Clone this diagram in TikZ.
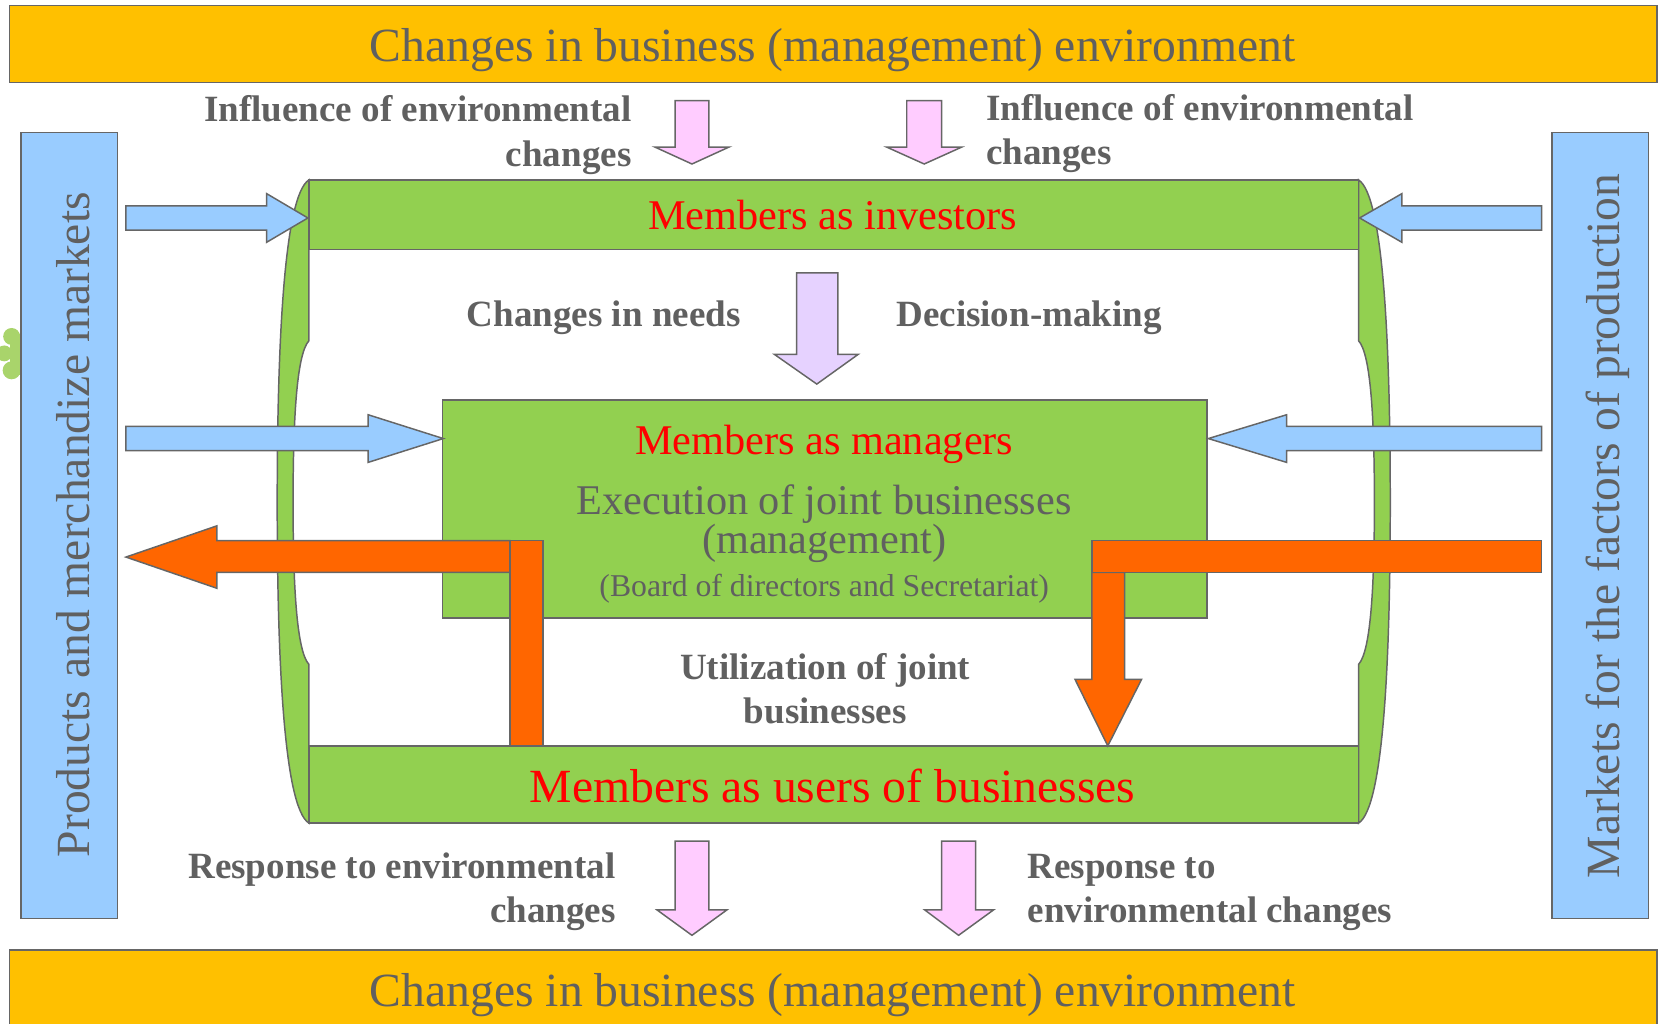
\documentclass[tikz,border=0pt]{standalone}
\usepackage{fontspec}
\setmainfont{Liberation Serif}
\definecolor{gold}{HTML}{FFC000}
\definecolor{skyb}{HTML}{99CCFF}
\definecolor{leaf}{HTML}{92D050}
\definecolor{blob}{HTML}{A9D46B}
\definecolor{orng}{HTML}{FF6600}
\definecolor{pinkk}{HTML}{FFCCFF}
\definecolor{lav}{HTML}{E6D2FF}
\definecolor{edge}{HTML}{666666}
\definecolor{tgrey}{HTML}{606060}
\definecolor{redd}{HTML}{FF0000}
\tikzset{
  ln/.style={draw=edge, line width=1.4pt, line join=miter},
  goldbox/.style={ln, fill=gold},
  bluebox/.style={ln, fill=skyb},
  greenbox/.style={ln, fill=leaf},
  bluearrow/.style={ln, fill=skyb},
  orangeshape/.style={ln, fill=orng},
  pinkarrow/.style={ln, fill=pinkk},
  lavarrow/.style={ln, fill=lav},
  lbl/.style={text=tgrey, font=\fontsize{35}{42}\selectfont\bfseries, inner sep=0pt},
  bigtitle/.style={text=tgrey, font=\fontsize{45}{54}\selectfont, inner sep=0pt, anchor=base},
  redtitle/.style={text=redd, inner sep=0pt, anchor=base},
  boxtext/.style={text=tgrey, inner sep=0pt, anchor=base},
  sidetext/.style={text=tgrey, font=\fontsize{45}{54}\selectfont, inner sep=0pt, rotate=90, anchor=base},
}
\begin{document}
\begin{tikzpicture}[x=1pt,y=-1pt]
\useasboundingbox (0,0) rectangle (1568,967);
% decorative clover, mostly hidden behind the left bar
\fill[blob] (11,318) circle (8) (4,334) circle (7.5) (11,350) circle (8.5);
\fill[blob] (9,316) rectangle (20,354);
% top and bottom bars
\draw[goldbox] (9,5) rectangle (1566,78);
\draw[goldbox] (9,898) rectangle (1566,975);
\node[bigtitle] (toptitle) at (787,58) {Changes in business (management) environment};
\node[bigtitle] (bottitle) at (787,951) {Changes in business (management) environment};
% side bars
\draw[bluebox] (20,125) rectangle (111,868);
\draw[bluebox] (1467,125) rectangle (1558,868);
\node[sidetext] (lefttext) at (85,496) {Products and merchandize markets};
\node[sidetext] (righttext) at (1531,497) {Markets for the factors of production};
% scroll sides
\draw[greenbox] (292,170) .. controls (268,185) and (262,330) .. (262,475)
  .. controls (262,620) and (268,763) .. (292,778) -- (292,628)
  .. controls (280,615) and (277,550) .. (277,475)
  .. controls (277,400) and (280,335) .. (292,322) -- cycle;
\draw[greenbox] (1284,170) .. controls (1308,185) and (1314,330) .. (1314,475)
  .. controls (1314,620) and (1308,763) .. (1284,778) -- (1284,628)
  .. controls (1296,615) and (1299,550) .. (1299,475)
  .. controls (1299,400) and (1296,335) .. (1284,322) -- cycle;
% green bars
\draw[greenbox] (292,170) rectangle (1284,236);
\draw[greenbox] (292,705) rectangle (1284,778);
\draw[greenbox] (418,378) rectangle (1141,584);
% blue arrows
\draw[bluearrow] (119,194.5) -- (252,194.5) -- (252,183) -- (291,206) -- (252,229) -- (252,217.5) -- (119,217.5) -- cycle;
\draw[bluearrow] (1457,194.5) -- (1325,194.5) -- (1325,183) -- (1285,206) -- (1325,229) -- (1325,217.5) -- (1457,217.5) -- cycle;
\draw[bluearrow] (119,403) -- (348,403) -- (348,392) -- (419,414.5) -- (348,437) -- (348,426) -- (119,426) -- cycle;
\draw[bluearrow] (1457,403) -- (1216,403) -- (1216,392) -- (1142,414.5) -- (1216,437) -- (1216,426) -- (1457,426) -- cycle;
% orange arrows
\draw[orangeshape] (482,511) -- (205,511) -- (205,497) -- (119,526.5) -- (205,556) -- (205,541) -- (482,541) -- cycle;
\draw[orangeshape] (482,511) rectangle (513,705);
\draw[orangeshape] (1032,541) -- (1032,642) -- (1016,642) -- (1047,705) -- (1079,642) -- (1063,642) -- (1063,541) -- cycle;
\draw[orangeshape] (1032,511) rectangle (1457,541);
% pink arrows
\draw[pinkarrow] (638,95) -- (670,95) -- (670,139) -- (689,139) -- (654,155) -- (619,139) -- (638,139) -- cycle;
\draw[pinkarrow] (857,95) -- (890,95) -- (890,139) -- (909,139) -- (873.5,155) -- (838,139) -- (857,139) -- cycle;
\draw[pinkarrow] (638,795) -- (670,795) -- (670,860) -- (687,860) -- (654,884) -- (621,860) -- (638,860) -- cycle;
\draw[pinkarrow] (890,795) -- (922,795) -- (922,860) -- (939,860) -- (906,884) -- (874,860) -- (890,860) -- cycle;
\draw[lavarrow] (753,258) -- (792,258) -- (792,335) -- (811,335) -- (772,363) -- (732,335) -- (753,335) -- cycle;
% red titles
\node[redtitle, font=\fontsize{40}{48}\selectfont] (investors) at (787,217) {Members as investors};
\node[redtitle, font=\fontsize{40}{48}\selectfont] (managers) at (779,430) {Members as managers};
\node[redtitle, font=\fontsize{45}{54}\selectfont] (users) at (787,758) {Members as users of businesses};
% manager box texts
\node[boxtext, font=\fontsize{40}{48}\selectfont] (exec) at (779,486) {Execution of joint businesses};
\node[boxtext, font=\fontsize{40}{48}\selectfont] (mgmt) at (779,523) {(management)};
\node[boxtext, font=\fontsize{30}{36}\selectfont] (board) at (779,564) {(Board of directors and Secretariat)};
% labels
\node[lbl, anchor=base east] (infl1) at (597,115) {Influence of environmental};
\node[lbl, anchor=base east] (infl2) at (597,157) {changes};
\node[lbl, anchor=base west] (infr1) at (932,114) {Influence of environmental};
\node[lbl, anchor=base west] (infr2) at (932,155) {changes};
\node[lbl, anchor=base west] (needs) at (441,309) {Changes in needs};
\node[lbl, anchor=base west] (decision) at (847,309) {Decision-making};
\node[lbl, anchor=base] (util1) at (780,642) {Utilization of joint};
\node[lbl, anchor=base] (util2) at (780,684) {businesses};
\node[lbl, anchor=base east] (respl1) at (582,830) {Response to environmental};
\node[lbl, anchor=base east] (respl2) at (582,872) {changes};
\node[lbl, anchor=base west] (respr1) at (971,830) {Response to};
\node[lbl, anchor=base west] (respr2) at (971,872) {environmental changes};
\end{tikzpicture}
\end{document}
